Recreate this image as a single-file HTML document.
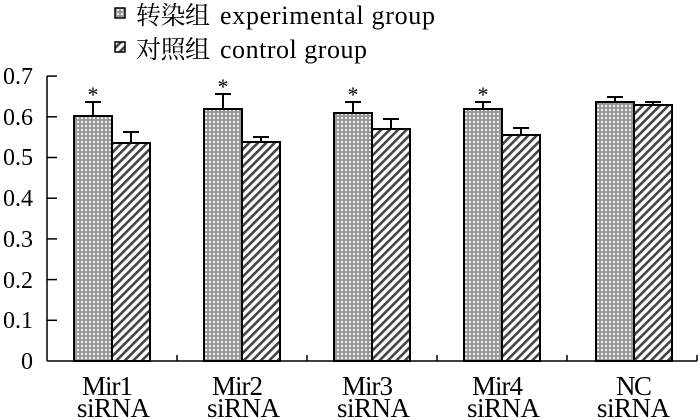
<!DOCTYPE html><html><head><meta charset="utf-8"><style>body{margin:0;background:#fff}svg{display:block}text{font-family:"Liberation Serif","Noto Serif CJK SC",serif;fill:#000}</style></head><body>
<svg width="700" height="420" viewBox="0 0 700 420">
<defs>
<pattern id="dot" width="4" height="4" patternUnits="userSpaceOnUse"><rect width="4" height="4" fill="#999"/><rect x="1" y="1" width="2" height="2" fill="#f0f0f0"/></pattern>
<pattern id="hat" width="6" height="6" patternUnits="userSpaceOnUse" patternTransform="rotate(45)"><rect width="6" height="6" fill="#fff"/><rect width="2.6" height="6" fill="#444"/></pattern>
</defs>
<rect x="115" y="8" width="10" height="10" fill="url(#dot)" stroke="#000" stroke-width="1.5"/>
<text x="136" y="24" font-size="25" textLength="74">转染组</text>
<text x="220" y="24" font-size="26" textLength="215" lengthAdjust="spacing">experimental group</text>
<rect x="115" y="42" width="10" height="10" fill="url(#hat)" stroke="#000" stroke-width="1.5"/>
<text x="136" y="58" font-size="25" textLength="74">对照组</text>
<text x="220" y="58" font-size="26" textLength="147" lengthAdjust="spacing">control group</text>
<g stroke="#000" stroke-width="1.5" fill="none">
<line x1="47" y1="76" x2="47" y2="361"/><line x1="47" y1="361" x2="697" y2="361"/>
<line x1="47" y1="76.1" x2="57" y2="76.1"/><line x1="47" y1="116.8" x2="57" y2="116.8"/><line x1="47" y1="157.5" x2="57" y2="157.5"/><line x1="47" y1="198.2" x2="57" y2="198.2"/><line x1="47" y1="238.9" x2="57" y2="238.9"/><line x1="47" y1="279.6" x2="57" y2="279.6"/><line x1="47" y1="320.3" x2="57" y2="320.3"/>
<line x1="177" y1="361" x2="177" y2="355"/><line x1="307" y1="361" x2="307" y2="355"/><line x1="437" y1="361" x2="437" y2="355"/><line x1="567" y1="361" x2="567" y2="355"/><line x1="697" y1="361" x2="697" y2="355"/>
</g>
<g font-size="24">
<text x="3" y="84" textLength="30">0.7</text><text x="3" y="125" textLength="30">0.6</text><text x="3" y="165" textLength="30">0.5</text><text x="3" y="206" textLength="30">0.4</text><text x="3" y="247" textLength="30">0.3</text><text x="3" y="288" textLength="30">0.2</text><text x="3" y="328" textLength="30">0.1</text><text x="21" y="369">0</text>
</g>
<g stroke="#000" stroke-width="2">
<line x1="93" y1="116" x2="93" y2="102"/><line x1="85" y1="102" x2="101" y2="102"/>
<line x1="131" y1="143" x2="131" y2="132"/><line x1="123" y1="132" x2="139" y2="132"/>
<rect x="74" y="116" width="38" height="245" fill="url(#dot)"/><rect x="112" y="143" width="38" height="218" fill="url(#hat)"/>
<line x1="223" y1="109" x2="223" y2="94"/><line x1="215" y1="94" x2="231" y2="94"/>
<line x1="261" y1="142" x2="261" y2="137"/><line x1="253" y1="137" x2="269" y2="137"/>
<rect x="204" y="109" width="38" height="252" fill="url(#dot)"/><rect x="242" y="142" width="38" height="219" fill="url(#hat)"/>
<line x1="353" y1="113" x2="353" y2="102"/><line x1="345" y1="102" x2="361" y2="102"/>
<line x1="391" y1="129" x2="391" y2="119"/><line x1="383" y1="119" x2="399" y2="119"/>
<rect x="334" y="113" width="38" height="248" fill="url(#dot)"/><rect x="372" y="129" width="38" height="232" fill="url(#hat)"/>
<line x1="483" y1="109" x2="483" y2="102"/><line x1="475" y1="102" x2="491" y2="102"/>
<line x1="521" y1="135" x2="521" y2="128"/><line x1="513" y1="128" x2="529" y2="128"/>
<rect x="464" y="109" width="38" height="252" fill="url(#dot)"/><rect x="502" y="135" width="38" height="226" fill="url(#hat)"/>
<line x1="615" y1="102" x2="615" y2="97"/><line x1="607" y1="97" x2="623" y2="97"/>
<line x1="653" y1="105" x2="653" y2="102"/><line x1="645" y1="102" x2="661" y2="102"/>
<rect x="596" y="102" width="38" height="259" fill="url(#dot)"/><rect x="634" y="105" width="38" height="256" fill="url(#hat)"/>
</g>
<g font-size="22" text-anchor="middle">
<text x="93" y="102">*</text><text x="223" y="94">*</text><text x="353" y="102">*</text><text x="483" y="102">*</text>
</g>
<g font-size="27">
<text x="82" y="395" textLength="51">Mir1</text><text x="77" y="417" textLength="73">siRNA</text>
<text x="212" y="395" textLength="51">Mir2</text><text x="207" y="417" textLength="73">siRNA</text>
<text x="342" y="395" textLength="51">Mir3</text><text x="337" y="417" textLength="73">siRNA</text>
<text x="472" y="395" textLength="51">Mir4</text><text x="467" y="417" textLength="73">siRNA</text>
<text x="616" y="395" textLength="36">NC</text><text x="597" y="417" textLength="73">siRNA</text>
</g>
</svg></body></html>
